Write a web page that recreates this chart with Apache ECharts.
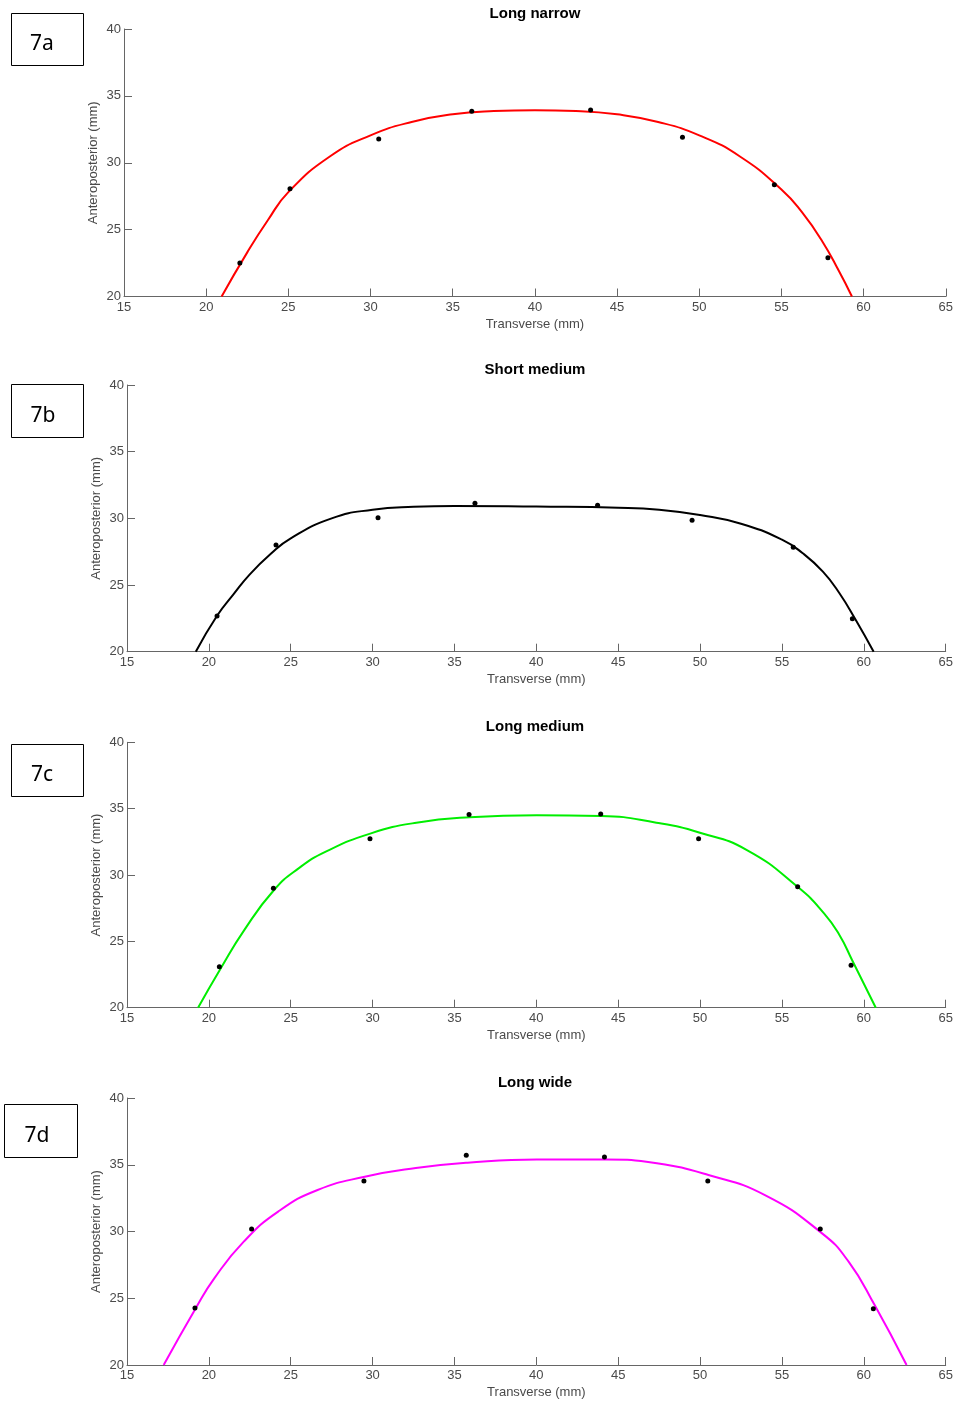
<!DOCTYPE html>
<html><head><meta charset="utf-8">
<script src="https://cdn.jsdelivr.net/npm/echarts@6/dist/echarts.min.js"></script>
<style>html,body{margin:0;padding:0;background:#fff}#c{width:956px;height:1401px}</style>
</head><body><div id="c"></div>
<script>
// Panel titles and labels
const panelTitles = ['Long narrow', 'Short medium', 'Long medium', 'Long wide'];
const panelTags = ['7a', '7b', '7c', '7d'];
const lineColors = ['#ff0000', '#000000', '#00ee00', '#ff00ff'];
const xTicks = [15, 20, 25, 30, 35, 40, 45, 50, 55, 60, 65];
const yTicks = [20, 25, 30, 35, 40];

// 7a Long narrow: measured points
const ptsAX = [22.05, 25.1, 30.5, 36.16, 43.39, 48.98, 54.57, 57.83];
const ptsAY = [22.5, 28.06, 31.78, 33.85, 33.94, 31.9, 28.36, 22.9];
// 7a fitted curve
const curAX = [20.94, 22.5, 23.75, 25, 27.5, 30, 32.5, 35, 37.5, 40, 42.5, 45, 47.5, 50, 52.5, 55, 56.25, 57.5, 58.5, 59.29];
const curAY = [20, 23.3, 25.7, 27.8, 30.45, 32.05, 33.05, 33.62, 33.86, 33.93, 33.87, 33.62, 33.05, 32.05, 30.45, 28.0, 26.3, 24.1, 21.9, 20];

// 7b Short medium
const ptsBX = [20.5, 24.1, 30.33, 36.25, 43.74, 49.51, 55.69, 59.3];
const ptsBY = [22.68, 28.0, 30.05, 31.13, 30.98, 29.85, 27.83, 22.48];
const curBX = [19.2, 20.5, 21.5, 22.5, 23.75, 25, 27.5, 30, 32.5, 35, 40, 45, 47.5, 50, 52.5, 55, 56.25, 57.5, 58.5, 59.5, 60.6];
const curBY = [20, 22.7, 24.3, 25.8, 27.3, 28.5, 30.0, 30.65, 30.87, 30.93, 30.88, 30.8, 30.65, 30.25, 29.6, 28.4, 27.4, 26.0, 24.4, 22.4, 20];

// 7c Long medium
const ptsCX = [20.64, 23.94, 29.84, 35.89, 43.93, 49.91, 55.96, 59.22];
const ptsCY = [23.09, 29.0, 32.74, 34.55, 34.6, 32.74, 29.12, 23.2];
const curCX = [19.34, 20.72, 22.16, 23.98, 25.48, 27.14, 29.9, 32.67, 35.93, 40.03, 43.96, 47.33, 49.99, 52.86, 55.99, 57.57, 58.5, 59.28, 60.73];
const curCY = [20, 22.96, 25.85, 28.87, 30.5, 31.76, 33.14, 33.94, 34.35, 34.5, 34.45, 33.94, 33.19, 31.88, 29.07, 27.11, 25.5, 23.6, 20];

// 7d Long wide
const ptsDX = [19.15, 22.61, 29.47, 35.72, 44.16, 50.47, 57.34, 60.58];
const ptsDY = [24.27, 30.19, 33.78, 35.71, 35.58, 33.78, 30.19, 24.22];
const curDX = [17.24, 19.19, 20.33, 22.13, 24.23, 26.64, 29.52, 32.64, 35.8, 40.03, 44.23, 47.36, 50.51, 53.96, 57.45, 59.07, 60.66, 62.61];
const curDY = [20, 24.24, 26.49, 29.24, 31.49, 33.11, 34.1, 34.75, 35.15, 35.4, 35.4, 35.11, 34.23, 32.73, 29.86, 27.74, 24.49, 20];

const pts = [[ptsAX, ptsAY], [ptsBX, ptsBY], [ptsCX, ptsCY], [ptsDX, ptsDY]];
const curves = [[curAX, curAY], [curBX, curBY], [curCX, curCY], [curDX, curDY]];
const zip = (xs, ys) => xs.map((x, i) => [x, ys[i]]);

// layout (pixels)
const grids = [
  {left: 124, right: 9, top: 29, height: 267.5},
  {left: 127, right: 10.3, top: 385, height: 266.7},
  {left: 127, right: 10.3, top: 742.3, height: 265.4},
  {left: 127, right: 10.3, top: 1098, height: 267}
];
const titleTops = [6, 362, 719, 1075];
const boxes = [
  {x: 11, y: 13, w: 72, h: 52, tx: 42, ty: 44},
  {x: 11, y: 384, w: 72, h: 53, tx: 43, ty: 416},
  {x: 11, y: 744, w: 72, h: 52, tx: 42, ty: 775},
  {x: 4, y: 1104, w: 73, h: 53, tx: 37, ty: 1136}
];

const axisColor = '#666';
const labelColor = '#4a4a4a';
const font = 'Liberation Sans, Arial, sans-serif';

const option = {
  animation: false,
  backgroundColor: '#fff',
  title: panelTitles.map((t, i) => ({
    text: t, left: 535, top: titleTops[i], textAlign: 'center', padding: 0,
    textStyle: {fontSize: 15, fontWeight: 'bold', color: '#000', fontFamily: font}
  })),
  grid: grids.map(g => Object.assign({containLabel: false}, g)),
  xAxis: grids.map((g, i) => ({
    type: 'value', gridIndex: i, min: 15, max: 65, interval: 5,
    name: 'Transverse (mm)', nameLocation: 'middle', nameGap: 21, nameMoveOverlap: false,
    nameTextStyle: {color: labelColor, fontSize: 13, fontFamily: font},
    axisLine: {show: true, lineStyle: {color: axisColor, width: 1}},
    axisTick: {show: true, inside: true, length: 8, lineStyle: {color: axisColor}},
    axisLabel: {color: labelColor, fontSize: 13, margin: 4, fontFamily: font, showMinLabel: true, showMaxLabel: true},
    splitLine: {show: false}
  })),
  yAxis: grids.map((g, i) => ({
    type: 'value', gridIndex: i, min: 20, max: 40, interval: 5,
    name: 'Anteroposterior (mm)', nameLocation: 'middle', nameGap: 24, nameRotate: 90, nameMoveOverlap: false,
    nameTextStyle: {color: labelColor, fontSize: 13, fontFamily: font},
    axisLine: {show: true, lineStyle: {color: axisColor, width: 1}},
    axisTick: {show: true, inside: true, length: 8, lineStyle: {color: axisColor}},
    axisLabel: {color: labelColor, fontSize: 13, margin: 3, fontFamily: font},
    splitLine: {show: false}
  })),
  series: [].concat(
    curves.map((c, i) => ({
      type: 'line', xAxisIndex: i, yAxisIndex: i, data: zip(c[0], c[1]),
      smooth: 0.5, showSymbol: false, symbol: 'none',
      lineStyle: {color: lineColors[i], width: 2}, z: 2
    })),
    pts.map((p, i) => ({
      type: 'scatter', xAxisIndex: i, yAxisIndex: i, data: zip(p[0], p[1]),
      symbol: 'circle', symbolSize: 5, itemStyle: {color: '#000', opacity: 1}, z: 3
    }))
  ),
  graphic: boxes.map((b, i) => ({
    type: 'group', children: [
      {type: 'rect', shape: {x: b.x + 0.5, y: b.y + 0.5, width: b.w, height: b.h},
       style: {fill: '#fff', stroke: '#000', lineWidth: 1}},
      {type: 'text', x: b.tx, y: b.ty,
       style: {text: panelTags[i], fontSize: 21, fontFamily: 'Noto Sans, DejaVu Sans, sans-serif', fill: '#000', align: 'center', verticalAlign: 'middle'}}
    ]
  }))
};

const chart = echarts.init(document.getElementById('c'), null, {renderer: 'canvas'});
chart.setOption(option);
</script>
</body></html>
